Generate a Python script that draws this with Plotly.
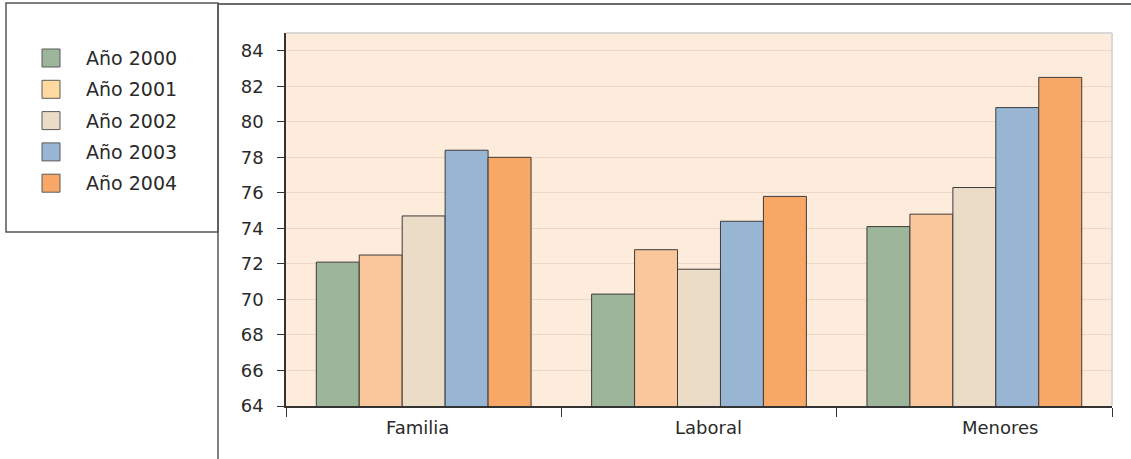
import plotly.graph_objects as go

# Categories and yearly values
categories = ["Familia", "Laboral", "Menores"]
years = ["Año 2000", "Año 2001", "Año 2002", "Año 2003", "Año 2004"]
v2000 = [72.1, 70.3, 74.1]
v2001 = [72.5, 72.8, 74.8]
v2002 = [74.7, 71.7, 76.3]
v2003 = [78.4, 74.4, 80.8]
v2004 = [78.0, 75.8, 82.5]
series = [v2000, v2001, v2002, v2003, v2004]

bar_colors = ["#9CB59B", "#FAC69C", "#EADCC7", "#98B5D3", "#F7A867"]
swatch_colors = ["#9CB59B", "#FFD9A0", "#EADCC7", "#98B5D3", "#F7A867"]
# horizontal nudge of each category caption, in pixels
label_shift = [-6, 9, 26]

W, H = 1131, 459
ML, MR, MT, MB = 286, 19, 33, 53
PW, PH = W - ML - MR, H - MT - MB
FONT = "DejaVu Sans"
TXT = "#2a2a2a"


def px_x(x):
    return (x - ML) / PW


def px_y(y):
    return (H - MB - y) / PH


fig = go.Figure()
for name, vals, col in zip(years, series, bar_colors):
    fig.add_trace(go.Bar(
        x=categories, y=vals, name=name,
        marker=dict(color=col, line=dict(color="#3c3c3c", width=1)),
        showlegend=False,
    ))

shapes = [
    # light border on top and right of the plotting area
    dict(type="line", xref="paper", yref="paper", x0=0, x1=1, y0=1, y1=1,
         line=dict(color="#D8D8D8", width=2), layer="below"),
    dict(type="line", xref="paper", yref="paper", x0=1, x1=1, y0=0, y1=1,
         line=dict(color="#D8D8D8", width=2), layer="below"),
    # outer frame
    dict(type="line", xref="paper", yref="paper", x0=px_x(218), x1=px_x(W),
         y0=px_y(4), y1=px_y(4), line=dict(color="#3a3a3a", width=1.5)),
    dict(type="line", xref="paper", yref="paper", x0=px_x(218), x1=px_x(218),
         y0=px_y(3), y1=px_y(H), line=dict(color="#555555", width=1.5)),
    # legend box
    dict(type="rect", xref="paper", yref="paper", x0=px_x(6), x1=px_x(218),
         y0=px_y(232), y1=px_y(3), line=dict(color="#555555", width=1.5)),
]

annotations = []
sw = 18
for i, (name, col) in enumerate(zip(years, swatch_colors)):
    cy = 58 + i * 31.3
    shapes.append(dict(type="rect", xref="paper", yref="paper",
                       x0=px_x(42), x1=px_x(42 + sw),
                       y0=px_y(cy + sw / 2), y1=px_y(cy - sw / 2),
                       fillcolor=col, line=dict(color="#5a5a5a", width=1)))
    annotations.append(dict(xref="paper", yref="paper", x=px_x(84), y=px_y(cy),
                            text=name, showarrow=False, xanchor="left",
                            yanchor="middle",
                            font=dict(family=FONT, size=19, color=TXT)))

# category captions under the axis
for cat, dx in zip(categories, label_shift):
    annotations.append(dict(xref="x", yref="paper", x=cat, y=px_y(427),
                            text=cat, showarrow=False, xanchor="center",
                            yanchor="middle", xshift=dx,
                            font=dict(family=FONT, size=18, color=TXT)))

fig.update_layout(
    width=W, height=H,
    margin=dict(l=ML, r=MR, t=MT, b=MB, pad=0),
    paper_bgcolor="white",
    plot_bgcolor="#FDEBDB",
    barmode="group", bargap=0.22, bargroupgap=0,
    font=dict(family=FONT, size=18, color=TXT),
    shapes=shapes, annotations=annotations,
    xaxis=dict(
        type="category", tickson="boundaries", ticks="outside", ticklen=9,
        tickcolor="#333333", tickwidth=1.2, showline=True, linecolor="#333333",
        linewidth=1.5, showgrid=False, showticklabels=False,
    ),
    yaxis=dict(
        range=[64, 85], tick0=64, dtick=2, ticks="outside", ticklen=7,
        tickcolor="#333333", tickwidth=1.2, showline=True, linecolor="#333333",
        linewidth=1.5, showgrid=True, gridcolor="#EDD6C6", gridwidth=1,
        zeroline=False, tickfont=dict(size=18, color=TXT),
        ticklabelstandoff=10,
    ),
)

fig.write_html("out.html")
